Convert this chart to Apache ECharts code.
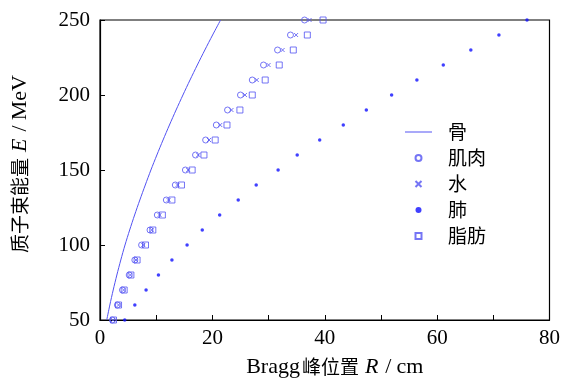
<!DOCTYPE html>
<html>
<head>
<meta charset="utf-8">
<script src="https://cdn.jsdelivr.net/npm/echarts@6/dist/echarts.min.js"></script>
<style>html,body{margin:0;padding:0;background:#fff;}#c{width:563px;height:383px;}</style>
</head>
<body>
<div id="c"></div>
<script>
const energy = [50,60,70,80,90,100,110,120,130,140,150,160,170,180,190,200,210,220,230,240,250];
const bone   = [1.2,1.75,2.35,3.0,3.7,4.45,5.28,6.16,7.09,8.06,9.06,10.12,11.22,12.36,13.54,14.76,16.02,17.32,18.66,20.04,21.46];
const muscle = [2.2,3.1,4.0,5.2,6.2,7.4,8.9,10.2,11.8,13.4,15.2,17.0,18.8,20.7,22.7,25.0,27.1,29.1,31.6,33.9,36.4];
const water  = [2.3,3.3,4.2,5.4,6.4,7.7,9.2,10.6,12.2,13.8,15.7,17.5,19.4,21.4,23.4,25.8,27.9,30.0,32.5,34.9,37.3];
const lung   = [4.4,6.2,8.2,10.4,12.8,15.5,18.2,21.3,24.6,27.8,31.7,35.1,39.1,43.3,47.4,51.9,56.4,61.1,66.0,71.0,76.0];
const fat    = [2.4,3.3,4.3,5.5,6.6,8.1,9.4,11.1,12.8,14.5,16.4,18.5,20.5,22.6,24.9,27.1,29.4,31.9,34.4,36.9,39.7];
const names  = ['骨','肌肉','水','肺','脂肪'];
const xTicks = [0,20,40,60,80];
const yTicks = [50,100,150,200,250];

const pts = arr => arr.map((r, i) => [r, energy[i]]);
const serif = 'Liberation Serif, DejaVu Serif, serif';
const blue = '#5252f2';
const nameRich = {
  l: {fontFamily: serif, fontSize: 22, color: '#000'},
  c: {fontFamily: 'Noto Sans CJK SC', fontSize: 19, color: '#000', padding: [0, 2, 0, 2]},
  i: {fontFamily: serif, fontStyle: 'italic', fontSize: 22, color: '#000', padding: [0, 2, 0, 4]},
  s: {fontFamily: serif, fontSize: 22, color: '#000', padding: [0, 5, 0, 5]}
};

const chart = echarts.init(document.getElementById('c'));
chart.setOption({
  animation: false,
  grid: {left: 100, right: 13, top: 20, bottom: 58, show: true, borderColor: '#000', borderWidth: 1.2},
  xAxis: {
    type: 'value', min: xTicks[0], max: xTicks[xTicks.length-1], interval: 20,
    axisLine: {show: true, lineStyle: {color: '#000', width: 1.2}},
    axisTick: {show: true, inside: true, length: 5, lineStyle: {color: '#000'}},
    minorTick: {show: true, splitNumber: 2, length: 5, lineStyle: {color: '#000'}},
    splitLine: {show: false},
    axisLabel: {fontFamily: serif, fontSize: 21, color: '#000', margin: 8},
    name: '{l|Bragg}{c|峰位置}{i|R}{s|/}{l|cm}', nameLocation: 'middle', nameGap: 36,
    nameTextStyle: {fontFamily: serif, fontSize: 22, color: '#000', padding: [0, 0, 0, 20], rich: nameRich}
  },
  yAxis: {
    type: 'value', min: yTicks[0], max: yTicks[yTicks.length-1], interval: 50,
    axisLine: {show: true, lineStyle: {color: '#000', width: 1.2}},
    axisTick: {show: true, inside: true, length: 5, lineStyle: {color: '#000'}},
    splitLine: {show: false},
    axisLabel: {fontFamily: serif, fontSize: 21, color: '#000', margin: 10},
    name: '{c|质子束能量}{i|E}{s|/}{l|MeV}', nameLocation: 'middle', nameGap: 69,
    nameTextStyle: {fontFamily: serif, fontSize: 22, color: '#000', padding: [0, 0, 0, 10], rich: nameRich}
  },
  legend: {
    orient: 'vertical', left: 400, top: 117, itemWidth: 27, itemHeight: 6, itemGap: 6,
    symbolKeepAspect: true,
    data: [
      {name: names[0], icon: 'path://M0,0L27,0L27,1L0,1Z'},
      {name: names[1], icon: 'circle'},
      {name: names[2], icon: 'path://M0,0L10,10M10,0L0,10'},
      {name: names[3], icon: 'circle'},
      {name: names[4], icon: 'path://M0,0L10,0L10,10L0,10Z'}
    ],
    textStyle: {fontFamily: 'Noto Sans CJK SC', fontSize: 19, color: '#000', lineHeight: 20, padding: [0, 0, 0, 11]}
  },
  series: [
    {name: names[0], type: 'line', data: pts(bone), symbol: 'none', smooth: 0.3,
     lineStyle: {color: blue, width: 1}, itemStyle: {color: blue}, clip: true},
    {name: names[1], type: 'scatter', data: pts(muscle), symbol: 'circle', symbolSize: 6, clip: false,
     itemStyle: {color: 'rgba(0,0,0,0)', borderColor: blue, borderWidth: 1}},
    {name: names[2], type: 'scatter', data: pts(water), symbol: 'path://M0,0L10,10M10,0L0,10', symbolSize: 4, clip: false,
     itemStyle: {color: 'rgba(0,0,0,0)', borderColor: blue, borderWidth: 1}},
    {name: names[3], type: 'scatter', data: pts(lung), symbol: 'circle', symbolSize: 3.5, clip: false,
     itemStyle: {color: '#1010ff'}},
    {name: names[4], type: 'scatter', data: pts(fat), symbol: 'rect', symbolSize: 6, clip: false,
     itemStyle: {color: 'rgba(0,0,0,0)', borderColor: blue, borderWidth: 1}}
  ]
});
</script>
</body>
</html>
